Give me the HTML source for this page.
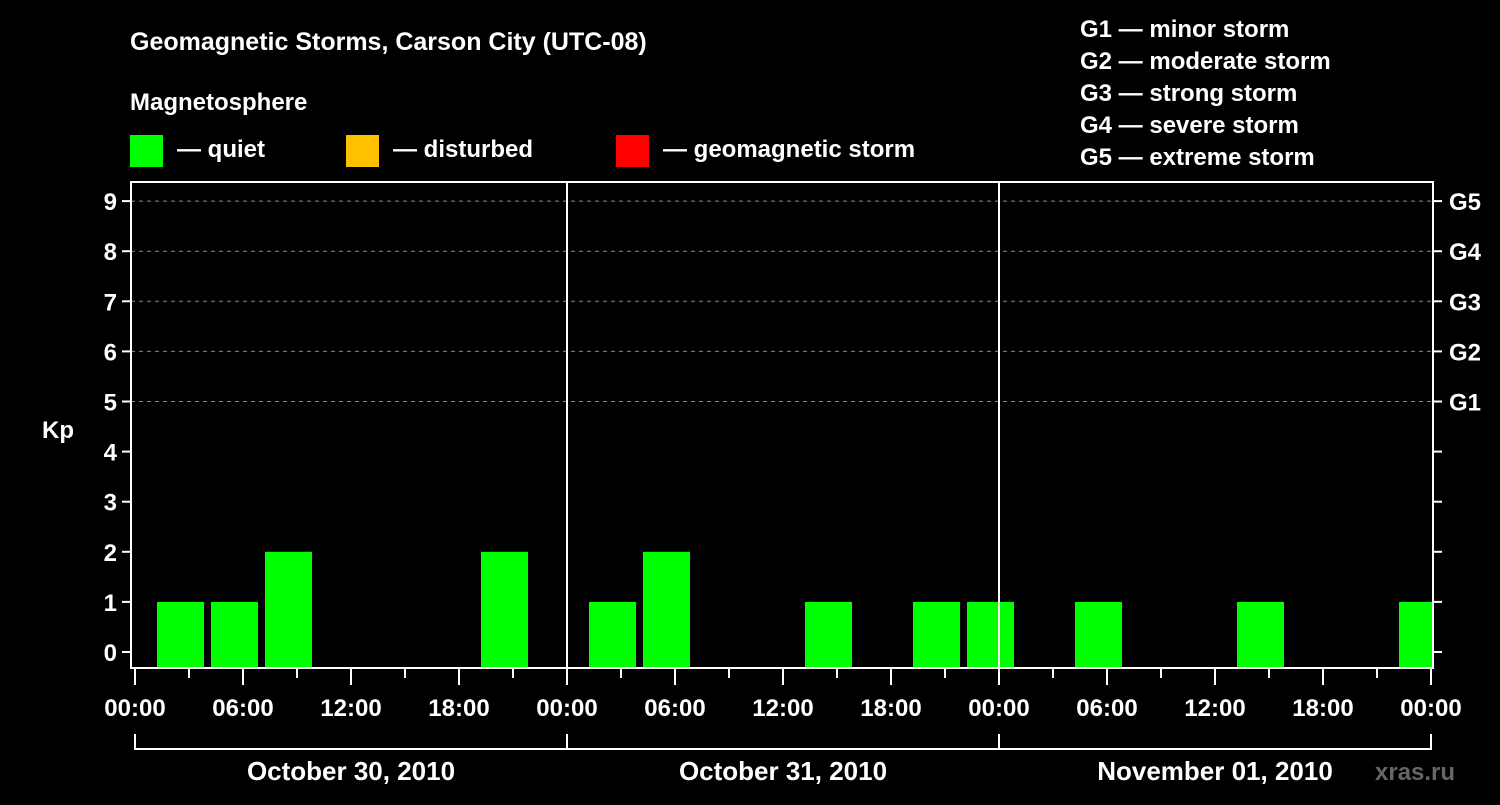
<!DOCTYPE html>
<html><head><meta charset="utf-8"><style>
body{margin:0;background:#000;width:1500px;height:800px;overflow:hidden}
svg text{font-family:"Liberation Sans",sans-serif;font-weight:bold;fill:#fff}
</style></head><body>
<svg id="c" width="1500" height="800">
<text x="130" y="50" font-size="25">Geomagnetic Storms, Carson City (UTC-08)</text>
<text x="130" y="110" font-size="24">Magnetosphere</text>
<g><rect x="130" y="135" width="33" height="32" fill="#00ff00"/><text x="177" y="157" font-size="24">— quiet</text></g>
<g><rect x="346" y="135" width="33" height="32" fill="#ffc000"/><text x="393" y="157" font-size="24">— disturbed</text></g>
<g><rect x="616" y="135" width="33" height="32" fill="#ff0000"/><text x="663" y="157" font-size="24">— geomagnetic storm</text></g>
<g font-size="24">
<text x="1080" y="37">G1 — minor storm</text><text x="1080" y="69">G2 — moderate storm</text><text x="1080" y="101">G3 — strong storm</text><text x="1080" y="133">G4 — severe storm</text><text x="1080" y="165">G5 — extreme storm</text></g>
<text x="42" y="438" font-size="24">Kp</text>
<text x="1375" y="780" font-size="24" fill="#666" style="fill:#666">xras.ru</text>
<g id="g"></g>
</svg>
<script>
const kpValues=[1,1,2,0,0,0,2,0,1,2,0,0,1,0,1,1,0,1,0,0,1,0,0,1];
const yTicks=[0,1,2,3,4,5,6,7,8,9];
const gLabels=["G1","G2","G3","G4","G5"];
const xLabels=["00:00","06:00","12:00","18:00","00:00","06:00","12:00","18:00","00:00","06:00","12:00","18:00","00:00"];
const dates=["October 30, 2010","October 31, 2010","November 01, 2010"];
const NS="http://www.w3.org/2000/svg",g=document.getElementById('g');
const L=131,R=1433,T=182,B=668,X0=135,PX_H=18;
const y=v=>652-v*50.1, x=h=>X0+h*PX_H;
function mk(t,a){const e=document.createElementNS(NS,t);for(const k in a)e.setAttribute(k,a[k]);g.appendChild(e);return e;}
const cp=mk('clipPath',{id:'cl'});cp.appendChild(Object.assign(document.createElementNS(NS,'rect'),{}));
cp.firstChild.setAttribute('x',L);cp.firstChild.setAttribute('y',T);cp.firstChild.setAttribute('width',R-L);cp.firstChild.setAttribute('height',B-T);
yTicks.forEach(v=>{
 if(v>=5){const l=mk('line',{x1:L,x2:R,y1:y(v),y2:y(v),stroke:'#888','stroke-dasharray':'4,4'});
 
 }
 const tk=mk('line',{x1:L-9,x2:L,y1:y(v),y2:y(v),stroke:'#fff','stroke-width':2});
 
 
 const rt=mk('line',{x1:R,x2:R+9,y1:y(v),y2:y(v),stroke:'#fff','stroke-width':2});
 
 
 const t=mk('text',{x:L-14,y:y(v)+9,'font-size':24,'text-anchor':'end'});t.textContent=v;
 
 
});
gLabels.forEach((s,i)=>{const t=mk('text',{x:R+16,y:y(5+i)+9,'font-size':24});t.textContent=s;
 
 });
kpValues.forEach((v,i)=>{if(v<=0)return;
 const r=mk('rect',{x:x(1+3*i)+4,y:y(v),width:47,height:B-y(v),fill:'#00ff00','clip-path':'url(#cl)'});
 
 });
[1,2].forEach(d=>{const l=mk('line',{x1:x(24*d),x2:x(24*d),y1:T,y2:B,stroke:'#fff','stroke-width':2});
 
 });
const fr=mk('rect',{x:L,y:T,width:R-L,height:B-T,fill:'none',stroke:'#fff','stroke-width':2});


for(let h=0;h<=72;h+=3){const tk=mk('line',{x1:x(h),x2:x(h),y1:B,y2:B+(h%6?10:17),stroke:'#fff','stroke-width':2});
 
 }
xLabels.forEach((s,i)=>{const t=mk('text',{x:x(i*6),y:716,'font-size':24,'text-anchor':'middle'});t.textContent=s;
 
 });
dates.forEach((s,d)=>{const p=mk('path',{d:`M${x(24*d)} 734V749H${x(24*d+24)}V734`,fill:'none',stroke:'#fff','stroke-width':2});
 
 
 const t=mk('text',{x:x(24*d+12),y:780,'font-size':26,'text-anchor':'middle'});t.textContent=s;
 
 });
</script>
</body></html>
